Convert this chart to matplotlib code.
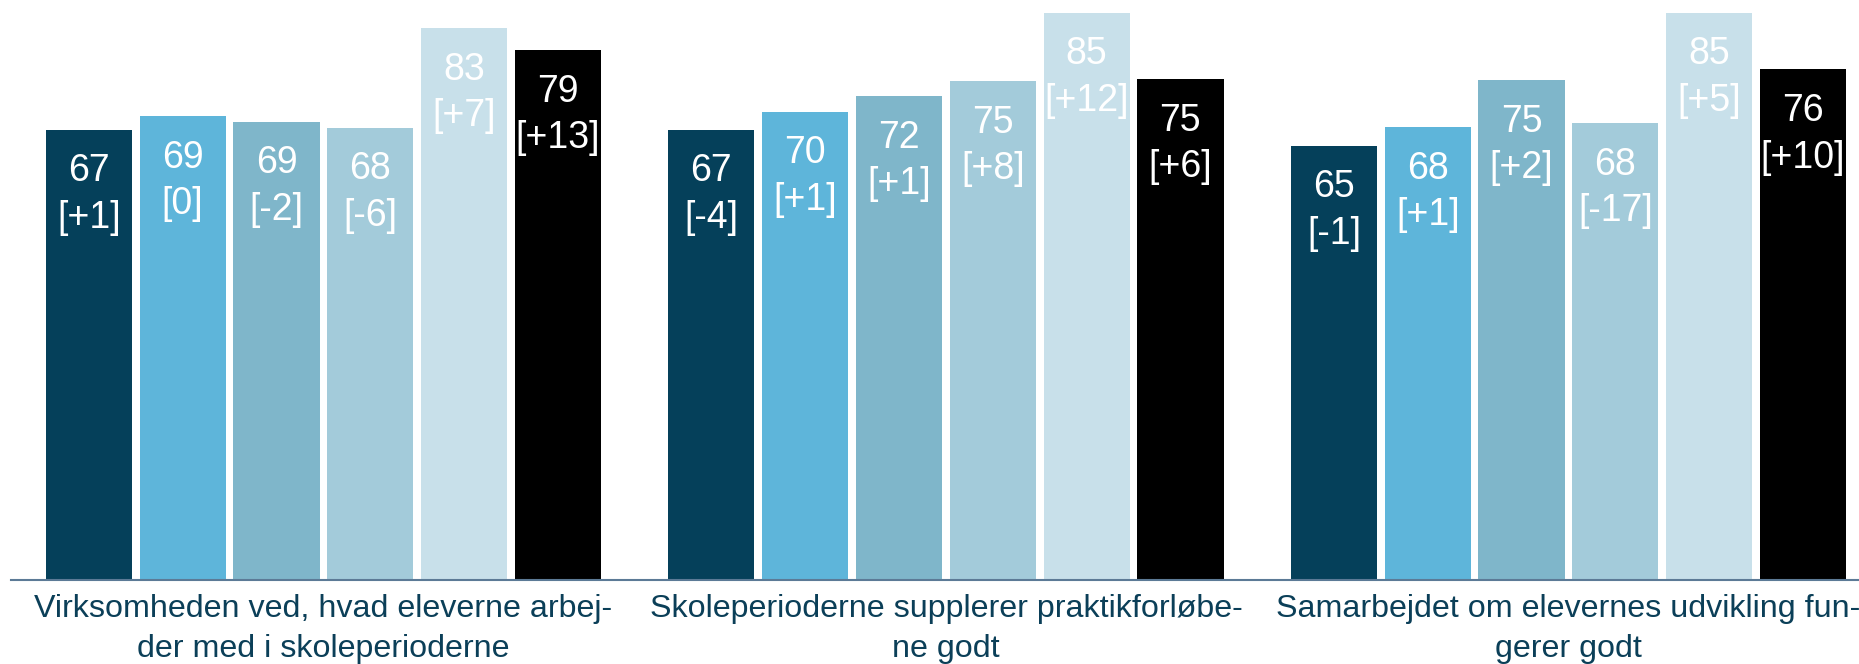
import matplotlib.pyplot as plt

categories = [
    "Virksomheden ved, hvad eleverne arbej-\nder med i skoleperioderne",
    "Skoleperioderne supplerer praktikforløbe-\nne godt",
    "Samarbejdet om elevernes udvikling fun-\ngerer godt",
]
# six series per category (value, change shown in brackets)
values = [
    [67.4, 69.4, 68.6, 67.7, 82.6, 79.3],
    [67.4, 70.1, 72.4, 74.7, 84.9, 75.0],
    [65.0, 67.8, 74.8, 68.4, 84.9, 76.4],
]
changes = [
    ["+1", "0", "-2", "-6", "+7", "+13"],
    ["-4", "+1", "+1", "+8", "+12", "+6"],
    ["-1", "+1", "+2", "-17", "+5", "+10"],
]
colors = ["#05405a", "#5eb5da", "#7fb6ca", "#a3cbda", "#c8e0ea", "#000000"]

plt.rcParams["font.family"] = ["Liberation Sans", "DejaVu Sans"]

fig = plt.figure(figsize=(18.59, 6.64), dpi=100)
ax = fig.add_axes([0, 84 / 664, 1, 580 / 664])

pitch = 0.1507
width = 0.1385
for g in range(len(categories)):
    for i in range(6):
        x = g + (i - 2.5) * pitch
        v = values[g][i]
        ax.bar(x, v, width=width, color=colors[i])
        ax.annotate(str(round(v)), (x, v), xytext=(0, -30), textcoords="offset points",
                    ha="center", va="center", color="white", fontsize=27)
        ax.annotate("[" + changes[g][i] + "]", (x, v), xytext=(0, -63.5), textcoords="offset points",
                    ha="center", va="center", color="white", fontsize=27)

ax.set_xlim(-0.5195, 2.4668)
ax.set_ylim(0, 86.8)
ax.set_yticks([])
ax.set_xticks(range(len(categories)))
ax.set_xticklabels(categories, fontsize=23.2, color="#0b3f58", linespacing=1.42)
ax.tick_params(axis="x", length=0, pad=10)
for s in ["top", "left", "right"]:
    ax.spines[s].set_visible(False)
ax.spines["bottom"].set_color("#5c7a96")
ax.spines["bottom"].set_linewidth(1.5)
ax.spines["bottom"].set_bounds(-0.5023, 2.4668)

fig.savefig("out.png", dpi=100)
